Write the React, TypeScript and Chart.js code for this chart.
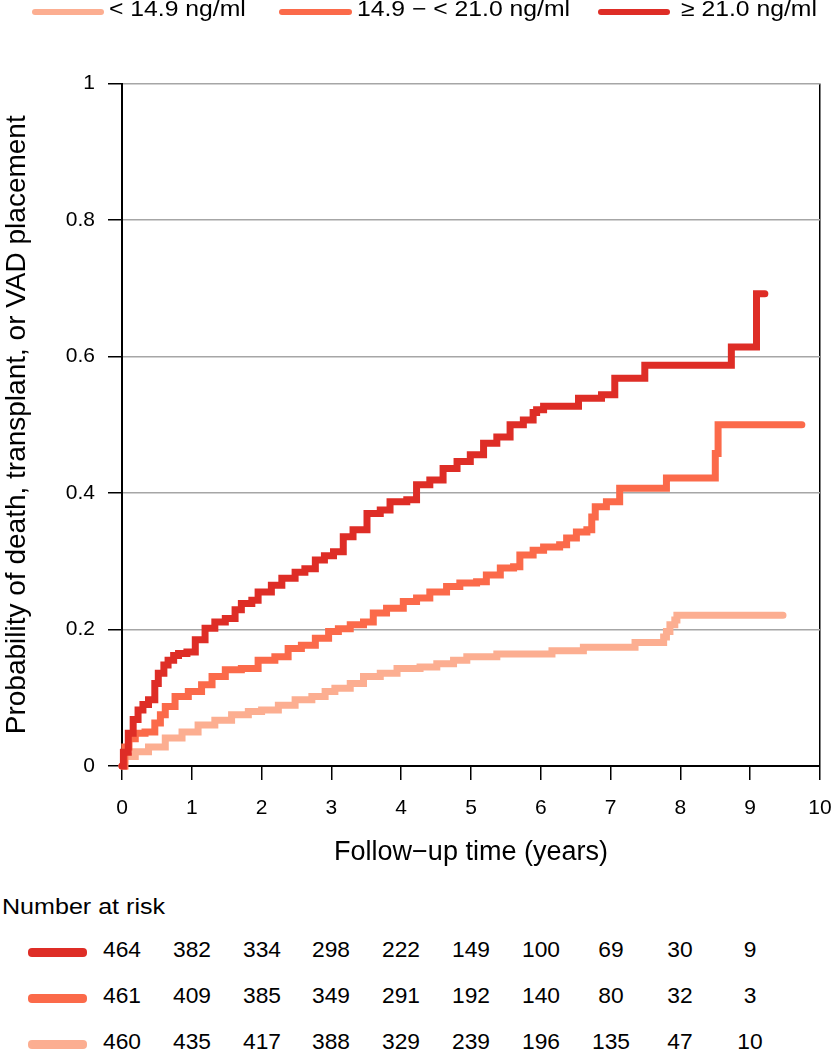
import React, { useEffect, useRef, useState } from "react";
import { Chart, registerables } from "chart.js";

Chart.register(...registerables);

const FONT = '"Liberation Sans", Arial, Helvetica, sans-serif';

// ---- Data ----
const seriesLabels = ["< 14.9 ng/ml", "14.9 − < 21.0 ng/ml", "≥ 21.0 ng/ml"];
const seriesColors = ["#fcae91", "#fb6a4a", "#de2d26"];

const lowTimes = [0, 0.04, 0.19, 0.38, 0.62, 0.86, 1.09, 1.33, 1.57, 1.81, 2.0, 2.24, 2.48, 2.72, 2.91, 3.05, 3.27, 3.46, 3.7, 3.94, 4.27, 4.51, 4.75, 4.94, 5.37, 6.16, 6.61, 7.35, 7.76, 7.8, 7.85, 7.92, 7.95, 9.47];
const lowProb = [0, 0.014, 0.021, 0.028, 0.041, 0.05, 0.06, 0.067, 0.075, 0.08, 0.082, 0.089, 0.097, 0.102, 0.109, 0.114, 0.121, 0.131, 0.136, 0.143, 0.145, 0.15, 0.155, 0.16, 0.164, 0.169, 0.174, 0.181, 0.189, 0.197, 0.207, 0.214, 0.221, 0.221];

const midTimes = [0, 0.04, 0.1, 0.19, 0.33, 0.47, 0.55, 0.62, 0.76, 0.95, 1.14, 1.29, 1.48, 1.71, 1.95, 2.19, 2.38, 2.57, 2.77, 2.96, 3.1, 3.27, 3.46, 3.6, 3.79, 4.03, 4.22, 4.41, 4.65, 4.84, 5.08, 5.22, 5.42, 5.61, 5.7, 5.89, 6.04, 6.27, 6.37, 6.51, 6.66, 6.73, 6.78, 6.94, 7.13, 7.8, 8.5, 8.54, 9.74];
const midProb = [0, 0.028, 0.04, 0.048, 0.05, 0.063, 0.075, 0.087, 0.102, 0.109, 0.119, 0.131, 0.141, 0.143, 0.155, 0.16, 0.172, 0.177, 0.187, 0.197, 0.201, 0.207, 0.211, 0.224, 0.231, 0.241, 0.246, 0.255, 0.263, 0.268, 0.27, 0.28, 0.29, 0.292, 0.309, 0.316, 0.321, 0.324, 0.334, 0.343, 0.346, 0.365, 0.38, 0.387, 0.407, 0.422, 0.458, 0.5, 0.5];

const highTimes = [0, 0.02, 0.09, 0.16, 0.23, 0.3, 0.38, 0.47, 0.52, 0.6, 0.66, 0.74, 0.81, 0.93, 1.05, 1.19, 1.33, 1.48, 1.62, 1.71, 1.86, 1.95, 2.14, 2.29, 2.48, 2.62, 2.77, 2.9, 3.03, 3.17, 3.31, 3.51, 3.7, 3.84, 4.08, 4.22, 4.41, 4.6, 4.8, 4.99, 5.18, 5.37, 5.56, 5.75, 5.89, 5.94, 6.04, 6.54, 6.87, 7.06, 7.49, 8.73, 9.09, 9.21];
const highProb = [0, 0.02, 0.048, 0.068, 0.082, 0.09, 0.097, 0.121, 0.136, 0.148, 0.155, 0.162, 0.165, 0.167, 0.185, 0.202, 0.211, 0.216, 0.229, 0.238, 0.243, 0.255, 0.265, 0.275, 0.284, 0.289, 0.302, 0.308, 0.314, 0.336, 0.346, 0.37, 0.375, 0.387, 0.39, 0.412, 0.419, 0.436, 0.446, 0.456, 0.473, 0.482, 0.5, 0.507, 0.518, 0.522, 0.527, 0.539, 0.544, 0.568, 0.587, 0.614, 0.692, 0.692];

const xTickStep = 1;
const yTickStep = 0.2;

// number at risk at years 0..9
const riskYears = [0, 1, 2, 3, 4, 5, 6, 7, 8, 9];
const riskHigh = [464, 382, 334, 298, 222, 149, 100, 69, 30, 9];
const riskMid = [461, 409, 385, 349, 291, 192, 140, 80, 32, 3];
const riskLow = [460, 435, 417, 388, 329, 239, 196, 135, 47, 10];

const xTitle = "Follow−up time (years)";
const yTitle = "Probability of death, transplant, or VAD placement";
const riskTitle = "Number at risk";

function toPoints(ts: number[], ps: number[]) {
  return ts.map((t, i) => ({ x: t, y: ps[i] }));
}

export default function App() {
  const canvasRef = useRef<HTMLCanvasElement | null>(null);
  const [colX, setColX] = useState<number[]>([]);

  useEffect(() => {
    if (!canvasRef.current) return;
    const mk = (label: string, color: string, ts: number[], ps: number[]) => ({
      label,
      data: toPoints(ts, ps),
      borderColor: color,
      backgroundColor: color,
      borderWidth: 7,
      pointRadius: 0,
      stepped: "before" as const,
      fill: false,
      borderCapStyle: "round" as const,
      borderJoinStyle: "miter" as const,
      clip: 6,
    });
    const chart = new Chart(canvasRef.current, {
      type: "line",
      data: {
        datasets: [
          mk(seriesLabels[2], seriesColors[2], highTimes, highProb),
          mk(seriesLabels[1], seriesColors[1], midTimes, midProb),
          mk(seriesLabels[0], seriesColors[0], lowTimes, lowProb),
        ],
      },
      options: {
        animation: false,
        responsive: false,
        maintainAspectRatio: false,
        layout: { padding: { top: 83.5, right: 14, left: 0, bottom: 0 } },
        plugins: { legend: { display: false }, tooltip: { enabled: false } },
        scales: {
          x: {
            type: "linear",
            min: 0,
            max: 10,
            ticks: {
              stepSize: xTickStep,
              color: "#000",
              font: { family: FONT, size: 21 },
              padding: 16,
              maxRotation: 0,
              autoSkip: false,
            },
            grid: {
              color: (ctx: any) => (ctx.tick && ctx.tick.value === 10 ? "#000" : "rgba(0,0,0,0)"),
              lineWidth: 1.5,
              tickColor: "#000",
              tickLength: 14,
              drawOnChartArea: true,
              drawTicks: true,
            },
            border: { display: true, color: "#000", width: 2 },
            title: {
              display: true,
              text: xTitle,
              color: "#000",
              font: { family: FONT, size: 27 },
              padding: { top: 0, bottom: 11 },
            },
            afterFit: (s: any) => {
              s.height = 114;
              s.paddingRight = 14;
              s.paddingLeft = 0;
            },
          },
          y: {
            type: "linear",
            min: 0,
            max: 1,
            ticks: {
              stepSize: yTickStep,
              color: "#000",
              font: { family: FONT, size: 21 },
              padding: 13,
              callback: (v: any) => String(Math.round(Number(v) * 10) / 10),
            },
            grid: {
              color: (ctx: any) => (ctx.tick && ctx.tick.value === 0 ? "rgba(0,0,0,0)" : "#a6a6a6"),
              lineWidth: 1.5,
              tickColor: "#000",
              tickLength: 14,
              drawTicks: true,
            },
            border: { display: true, color: "#000", width: 2 },
            title: {
              display: true,
              text: yTitle,
              color: "#000",
              font: { family: FONT, size: 28 },
              padding: { top: 0, bottom: 0 },
            },
            afterFit: (s: any) => {
              s.width = 122;
            },
          },
        },
      },
    });
    const xs = chart.scales.x;
    setColX(riskYears.map((v) => xs.getPixelForValue(v)));
    return () => chart.destroy();
  }, []);

  const legendLine = [
    [32, 104],
    [279, 352],
    [598, 670],
  ];
  const legendTextLeft = [109, 357, 681];
  const rows = [
    { color: seriesColors[2], vals: riskHigh, base: 958.3, cy: 952 },
    { color: seriesColors[1], vals: riskMid, base: 1004.3, cy: 998 },
    { color: seriesColors[0], vals: riskLow, base: 1050.3, cy: 1044 },
  ];
  const legendFont = 21.5;
  const headFont = 22;
  const numFont = 21.5;
  const baseOff = (f: number) => f * 0.8465;

  return (
    <div
      style={{
        position: "absolute",
        left: 0,
        top: 0,
        width: 834,
        height: 1050,
        overflow: "hidden",
        background: "#fff",
        fontFamily: FONT,
        color: "#000",
      }}
    >
      <canvas ref={canvasRef} width={834} height={880} style={{ position: "absolute", left: 0, top: 0 }} />
      {seriesLabels.map((lab, i) => (
        <React.Fragment key={lab}>
          <div
            style={{
              position: "absolute",
              left: legendLine[i][0],
              top: 9.3,
              width: legendLine[i][1] - legendLine[i][0],
              height: 6,
              borderRadius: 3,
              background: seriesColors[i],
            }}
          />
          <div
            style={{
              position: "absolute",
              left: legendTextLeft[i],
              top: 17.3 - baseOff(legendFont),
              fontSize: legendFont,
              lineHeight: legendFont + "px",
              whiteSpace: "nowrap",
              transform: "scaleX(1.15)",
              transformOrigin: "left center",
            }}
          >
            {lab}
          </div>
        </React.Fragment>
      ))}
      <div
        style={{
          position: "absolute",
          left: 1.5,
          top: 915 - baseOff(headFont),
          fontSize: headFont,
          lineHeight: headFont + "px",
          whiteSpace: "nowrap",
          transform: "scaleX(1.14)",
          transformOrigin: "left center",
        }}
      >
        {riskTitle}
      </div>
      {rows.map((r, ri) => (
        <React.Fragment key={ri}>
          <div
            style={{
              position: "absolute",
              left: 28.3,
              top: r.cy - 4.5,
              width: 59,
              height: 9,
              borderRadius: 4,
              background: r.color,
            }}
          />
          {colX.length > 0 &&
            r.vals.map((v, ci) => (
              <div
                key={ci}
                style={{
                  position: "absolute",
                  left: colX[ci],
                  top: r.base - baseOff(numFont),
                  fontSize: numFont,
                  lineHeight: numFont + "px",
                  whiteSpace: "nowrap",
                  transform: "translateX(-50%) scaleX(1.06)",
                }}
              >
                {v}
              </div>
            ))}
        </React.Fragment>
      ))}
    </div>
  );
}
